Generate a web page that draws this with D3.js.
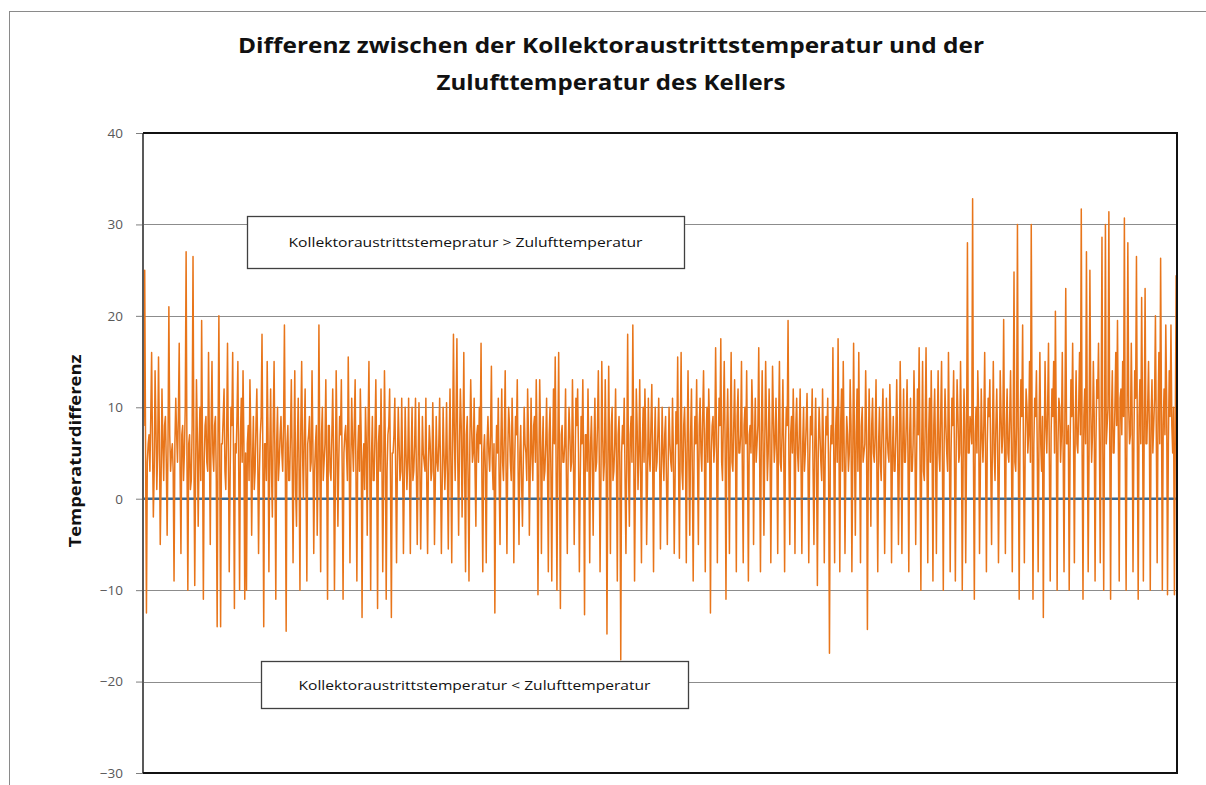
<!DOCTYPE html>
<html>
<head>
<meta charset="utf-8">
<script src="https://cdn.jsdelivr.net/npm/d3@7"></script>
<style>
    body { margin: 0; background: #fff; }
    svg { display: block; font-family: 'Open Sans', 'Liberation Sans', sans-serif; }
</style>
</head>
<body>
<svg id="chart" width="1206" height="785"></svg>
<script>
// Titel und Beschriftungen
const titleLines = ['Differenz zwischen der Kollektoraustrittstemperatur und der', 'Zulufttemperatur des Kellers'];
const yTitle = 'Temperaturdifferenz';
const yTicks = [-30, -20, -10, 0, 10, 20, 30, 40];
const notes = ['Kollektoraustrittstemepratur  > Zulufttemperatur', 'Kollektoraustrittstemperatur  < Zulufttemperatur'];
const noteValues = [28, -20];

// Temperaturdifferenz
const diff = [
    20, 8, 25, 5, -12.5, 4, 6, 7, 3, 9, 16, 6, -2, 3, 14, 8, 1, 5, 15.5, 7, -5, 2, 12, 6, 2, 8, 9, 4, -4, 6, 21, 7, 3, 5, 6, 3, -9, 6, 11, 7,
    4, 9, 17, 3, -6, 7, 8, 2, 5, 10, 27, 4, -10, 6, 7, 1, 2, 8, 26.5, 5, -9.5, 3, 13, 7, -3, 5, 10, 2, 19.5, 6, -11, 4, 8, 9, 4, 3, 16, 6, -5, 8,
    15, 5, 3, 8, 9, 2, -14, 7, 20, 4, -14, 6, 6, 9, 12, 3, 1, 7, 17, 5, -8, 2, 10, 8, 16, 4, -12, 6, 5, 9, 15, 3, -10, 7, 11, 4, 14, 6, -11, 5,
    -10, 6, 8, 2, 13, 7, -4, 4, 9, 1, 3, 8, 12, 5, -6, 3, 7, 9, 18, 4, -14, 6, 6, 2, 15, 7, -8, 5, 12, 3, -2, 8, 15, 4, -11, 6, 10, 2, 4, 7,
    9, 5, 3, 8, 19, 4, -14.5, 6, 8, 2, 2, 7, 13, 4, -7, 5, 14, 1, -3, 6, 11, 3, -10, 8, 15, 5, 0, 7, 12, 2, -9, 6, 7, 9, 3, 4, 14, 6, -6, 3,
    6, 8, -4, 3, 19, 5, -8, 7, 10, 2, 4, 6, 13, 4, -11, 8, 8, 3, 2, 7, 12, 5, -10, 1, 14, 6, -3, 4, 9, 7, 13, 3, -11, 5, 7, 8, 5, 2, 15.5, 6,
    -7, 4, 11, 6, 3, 8, 13, 2, -9, 5, 8, 3, 12, 7, -13, 4, 6, 1, 10, 6, -4, 8, 15, 3, -10, 5, 9, 2, 2, 7, 13, 4, -12, 6, 8, 3, 12, 5, -8, 2,
    14, 6, -11, 3, 7, 8, 12, 2, -13, 5, 5, 7, 11, 3, -7, 4, 10, 6, 2, 3, 11, 4, -6, 2, 10, 5, 1, 4, 11, 3, -6, 5, 10, 2, 3, 6, 11, 3, -5, 4,
    10.5, 4, -5.5, 2, 9, 5, 4, 3, 11, 2, -6, 4, 8, 6, 2, 3, 10.5, 5, -5, 2, 9, 4, 3, 6, 11, 3, -6, 2, 10, 5, 1, 4, 10.5, 3, -5.5, 5, 12, 4, -7, 6,
    18, 7, 2, 9, 17.5, 4, -4, 6, 12, 8, -2, 5, 16, 3, -8, 7, 9, 2, -9, 6, 13, 8, 4, 5, 11, 3, -3, 7, 8, 4, 10, 6, 17, 2, -8, 5, 7, 3, -7, 6,
    9, 5, 3, 7, 14.5, 4, 1, 6, -12.5, 3, 8, 5, 11, 2, -5, 6, 12, 4, 2, 7, 14, 3, -6, 5, 10, 8, 4, 2, 11, 6, -7, 4, 9, 7, 13, 3, -5, 5, 8, 2,
    -3, 4, 10, 6, 5, 2, 12, 7, -4, 3, 11, 5, 2, 8, 9, 4, 13, 6, -10.5, 3, 13, 7, -6, 5, 9, 2, 3, 6, 11, 4, -8, 7, 10, 3, -9, 5, 12, 6, 15.5, 4,
    -10, 5, 16, 3, -12, 7, 8, 4, 4, 6, 12, 2, -6, 5, 10, 7, 3, 4, 13, 6, -5, 3, 11, 8, 12, 5, -8, 2, 9, 6, 13, 4, -12.7, 7, 7, 3, 12, 5, -7, 6,
    9, 4, -4, 6, 11, 3, 4, 8, 14, 5, -8, 2, 15, 7, 2, 4, 13, 6, -14.8, 3, 14.5, 5, -6, 8, 10, 2, 3, 6, 12, 4, -9, 7, 9, 3, -17.6, 5, 8, 6, 11, 2,
    -6, 5, 18, 3, -3, 7, 9, 4, 19, 6, -9, 2, 12, 8, 1, 5, 13, 3, -7, 6, 10, 4, 12, 7, -5, 2, 11, 5, 3, 8, 12.5, 4, -8, 6, 10, 3, 4, 7, 11, 5,
    -5.5, 3, 10, 5, 2, 7, 9, 2, -5, 4, 10, 6, 4, 3, 11, 5, -6, 2, 9.5, 6, 15.5, 4, -6.5, 7, 16, 3, 1, 8, 10, 5, -7, 6, 14, 4, -4, 7, 12, 3, -9, 5,
    9, 6, 13, 4, -5, 8, 11, 5, 3, 9, 14, 6, -8, 7, 10, 4, 12, 8, -12.5, 5, 8, 9, 4, 6, 16.5, 7, -7, 5, 11, 8, 17.5, 4, 2, 9, 15, 6, -11, 7, 12, 5,
    -6, 7, 16, 4, 3, 8, 13, 6, -8, 9, 12, 5, 5, 7, 15, 3, -7, 8, 10, 6, 14, 4, -9, 7, 8, 5, 13, 9, -5, 6, 11, 4, 6, 8, 16.5, 5, -8, 7, 14, 6,
    -4, 6, 15, 8, 2, 5, 12, 7, -7, 4, 14.5, 9, 4, 6, 11, 5, -6, 8, 15, 4, 3, 7, 13, 5, -8, 6, 10, 8, 19.5, 4, -5, 7, 9, 5, 12, 6, -6, 8, 11, 5,
    3, 7, 12, 4, -6, 6, 10, 3, 5, 8, 11.5, 5, -7, 4, 9, 7, 12, 3, -5, 6, 11, 4, -9.5, 5, 10, 7, 4, 2, 12, 6, -7, 4, 9, 7, 11, 3, -16.9, 5, 8, 6,
    16.5, 5, -7, 7, 10, 4, 17.5, 6, -8, 8, 12, 3, 15, 6, -6, 4, 9, 7, 3, 5, 13, 8, -8, 4, 17, 6, -4, 7, 12, 3, 16, 5, -7, 8, 10, 4, 5, 6, 14, 7,
    -14.3, 4, 12, 6, -3, 8, 11, 5, 4, 7, 13, 3, -8, 6, 10, 4, 2, 8, 12, 5, -6, 3, 11, 7, 5, 4, 12.5, 8, -7, 5, 9, 3, 3, 7, 13, 6, -5, 4, 15, 8,
    -6, 6, 12, 4, 4, 8, 13, 5, -8, 7, 11, 3, 3, 6, 14, 8, -5, 4, 12, 7, 16.5, 5, -10, 6, 15, 3, 2, 8, 16.5, 5, -7, 7, 11, 4, 14, 6, -9, 8, 12, 5,
    -6, 7, 14, 5, 3, 9, 15, 4, -10, 6, 12, 8, 5, 3, 16, 7, -8, 5, 11, 8, 14, 4, -9, 6, 13, 9, 4, 5, 15, 7, -10, 4, 12, 8, -7, 6, 28, 5, 5, 9,
    8, 6, 32.8, 4, -11, 7, 10, 5, 14, 9, -6, 3, 12, 7, 4, 8, 16, 5, -8, 6, 11, 9, 13, 4, -5, 7, 15, 5, 2, 8, 12, 6, -7, 4, 14, 9, 5, 7, 19.6, 6,
    -6, 8, 12, 5, 4, 9, 14, 6, -8, 7, 24.8, 4, 3, 8, 30, 5, -11, 7, 13, 9, 19, 4, -7, 6, 12, 10, 5, 7, 15, 4, 30, 8, -11, 6, 11, 9, 14, 5, -8, 7,
    16, 6, 3, 9, -13, 5, 15, 8, 5, 10, 17, 4, -9, 7, 12, 9, 15, 5, 20.5, 8, -10, 6, 11, 10, 4, 7, 16, 5, -8, 9, 23, 6, 6, 8, -10, 5, 13, 9, 17, 7,
    -7, 8, 14, 6, 5, 10, 16, 7, 31.7, 5, -11, 9, 12, 6, 27, 8, -8, 5, 25, 10, 4, 7, 15, 9, -9, 6, 13, 11, 17, 7, -7, 9, 28.6, 5, -10, 8, 30, 6, 8, 10,
    31.4, 7, -11, 9, 14, 5, 5, 10, 16, 8, 19.5, 6, -9, 11, 12, 7, 15, 9, 30.7, 5, -10, 8, 28, 10, 6, 7, 17, 9, -8, 6, 14, 11, 26.5, 7, -11, 9, 13, 6, 22, 10,
    -9, 8, 23, 6, 6, 10, 15, 7, -10, 9, 13, 5, 8, 11, 20, 7, -7, 9, 16, 6, 26.3, 10, -10, 8, 12, 7, 19, 11, -10.5, 6, 14, 9, 19, 8, 5, 10, -10.5, 7, 24.4, 9
];

const svg = d3.select('#chart');
const margin = { top: 133, right: 29, bottom: 12, left: 143 };
const width = 1206, height = 785;
const plotWidth = width - margin.left - margin.right;
const plotHeight = height - margin.top - margin.bottom;

// äußerer Rahmen
svg.append('rect')
    .attr('x', 9.5).attr('y', 11.5)
    .attr('width', 1400).attr('height', 1000)
    .attr('fill', 'none').attr('stroke', '#8a8a8a');

// Titel
svg.selectAll('.title')
    .data(titleLines)
    .enter()
    .append('text')
    .attr('class', 'title')
    .attr('x', 611)
    .attr('y', (d, i) => 53 + i * 37)
    .attr('text-anchor', 'middle')
    .attr('font-size', 22)
    .attr('font-weight', 'bold')
    .attr('fill', '#111')
    .attr('textLength', (d, i) => i === 0 ? 746 : 349)
    .attr('lengthAdjust', 'spacingAndGlyphs')
    .text(d => d);

const g = svg.append('g').attr('transform', `translate(${margin.left},${margin.top})`);

const x = d3.scaleLinear().domain([0, diff.length - 1]).range([0, plotWidth]);
const y = d3.scaleLinear().domain([-30, 40]).range([plotHeight, 0]);

// Gitterlinien
g.append('g')
    .selectAll('line')
    .data(yTicks.filter(t => t > -30 && t < 40))
    .enter()
    .append('line')
    .attr('x1', 0).attr('x2', plotWidth)
    .attr('y1', d => Math.round(y(d)) + 0.5).attr('y2', d => Math.round(y(d)) + 0.5)
    .attr('stroke', '#8c8c8c');

// y-Achse
const yAxis = g.append('g')
    .call(d3.axisLeft(y).tickValues(yTicks).tickSize(7).tickPadding(13));
yAxis.select('.domain').remove();
yAxis.selectAll('.tick line').attr('stroke', '#7f7f7f');
yAxis.selectAll('.tick text')
    .attr('font-size', 13.5)
    .attr('fill', '#595959')
    .attr('font-family', "'Open Sans', sans-serif");

// Nulllinie (blaue Reihe)
g.append('line')
    .attr('x1', 0).attr('x2', plotWidth)
    .attr('y1', y(0)).attr('y2', y(0))
    .attr('stroke', '#3a6890').attr('stroke-width', 2.5);

// Temperaturdifferenz-Linie
const line = d3.line()
    .x((d, i) => x(i))
    .y(d => y(d));

g.append('path')
    .datum(diff)
    .attr('fill', 'none')
    .attr('stroke', '#e8751a')
    .attr('stroke-width', 1.5)
    .attr('stroke-linejoin', 'round')
    .attr('d', line);

// Nulllinie gestrichelt über der Linie
g.append('line')
    .attr('x1', 0).attr('x2', plotWidth)
    .attr('y1', y(0)).attr('y2', y(0))
    .attr('stroke', '#3a6890').attr('stroke-width', 1.5)
    .attr('stroke-dasharray', '2,5')
    .attr('stroke-opacity', 0.7);

// Rahmen des Diagrammbereichs
g.append('line')
    .attr('x1', 0).attr('x2', 0).attr('y1', 0).attr('y2', plotHeight)
    .attr('stroke', '#595959').attr('stroke-width', 2);
g.append('path')
    .attr('d', `M0,0H${plotWidth}V${plotHeight}H0`)
    .attr('fill', 'none')
    .attr('stroke', '#111').attr('stroke-width', 2);

// Textfelder
const boxes = [
    { x0: 104, x1: 541, h: 52, tl: 354 },
    { x0: 118, x1: 545, h: 47, tl: 352 }
];
boxes.forEach((b, i) => {
    const cy = i === 0 ? y(noteValues[i]) - 1 : y(noteValues[i]) + 3;
    g.append('rect')
        .attr('x', b.x0 + 0.5).attr('y', Math.round(cy - b.h / 2) + 0.5)
        .attr('width', b.x1 - b.x0).attr('height', b.h)
        .attr('fill', '#fff')
        .attr('stroke', '#404040').attr('stroke-width', 1.3);
    g.append('text')
        .attr('x', (b.x0 + b.x1) / 2)
        .attr('y', cy + 5)
        .attr('text-anchor', 'middle')
        .attr('font-size', 13.5)
        .attr('fill', '#111')
        .attr('textLength', b.tl)
        .attr('lengthAdjust', 'spacingAndGlyphs')
        .text(notes[i]);
});

// y-Achsentitel
svg.append('text')
    .attr('transform', 'translate(81,451) rotate(-90)')
    .attr('text-anchor', 'middle')
    .attr('font-size', 16)
    .attr('font-weight', 'bold')
    .attr('fill', '#111')
    .attr('textLength', 193)
    .attr('lengthAdjust', 'spacingAndGlyphs')
    .text(yTitle);
</script>
</body>
</html>
